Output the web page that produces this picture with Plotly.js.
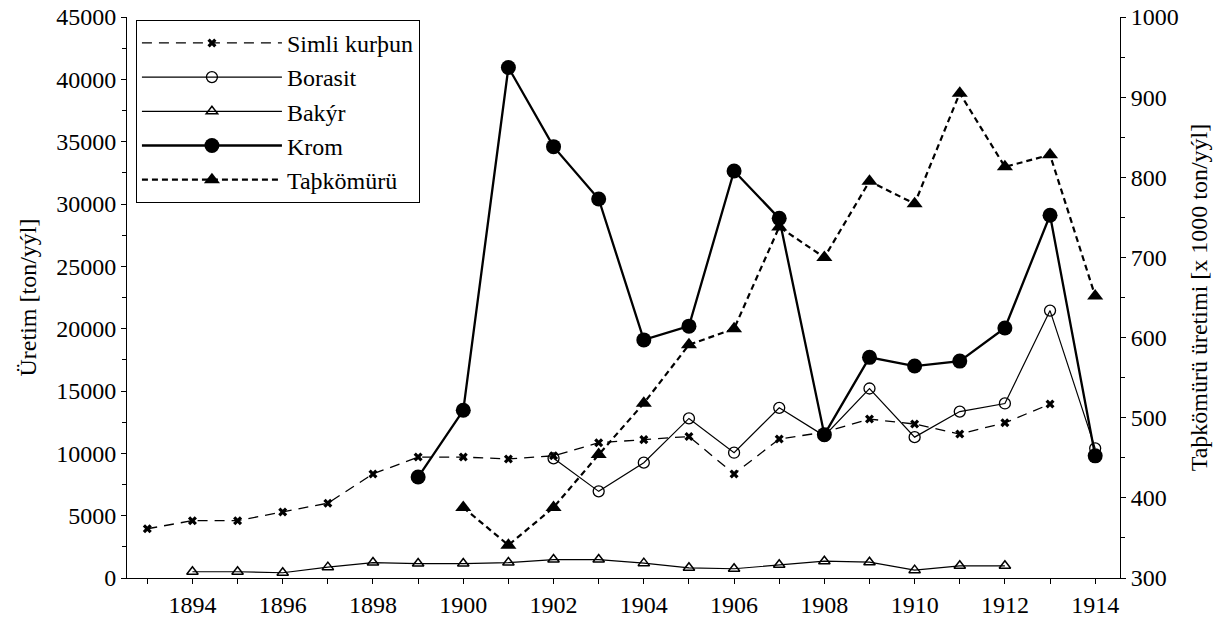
<!DOCTYPE html>
<html>
<head>
<meta charset="utf-8">
<script src="https://cdn.plot.ly/plotly-3.0.1.min.js"></script>
<style>
html,body{margin:0;padding:0;background:#fff;}
#chart{width:1220px;height:623px;}
#chart svg text{font-family:"Liberation Serif","Times New Roman",serif !important;}
</style>
</head>
<body>
<div id="chart"></div>
<script>
// Years (x axis)
const years = [1893,1894,1895,1896,1897,1898,1899,1900,1901,1902,1903,1904,1905,1906,1907,1908,1909,1910,1911,1912,1913,1914];

// Production [ton/yıl] - left axis
const simliKursun = [3950,4600,4600,5300,6000,8350,9700,9700,9550,9800,10850,11100,11350,8350,11150,11700,12750,12350,11550,12450,13950,null];
const borasit     = [null,null,null,null,null,null,null,null,null,9600,6950,9250,12800,10050,13650,11400,15200,11300,13350,14000,21450,10400];
const bakir       = [null,500,500,420,870,1240,1160,1160,1240,1480,1480,1190,820,740,1060,1350,1270,630,980,980,null,null];
const krom        = [null,null,null,null,null,null,8100,13450,40950,34600,30400,19100,20200,32650,28850,11500,17700,17000,17400,20050,29100,9800];

// Taşkömürü production [x 1000 ton/yıl] - right axis
const taskomuru   = [null,null,null,null,null,null,null,388,341,388,454,518,591,611,738,700,795,767,905,813,828,652];

// Labels
const seriesNames = ["Simli kurþun","Borasit","Bakýr","Krom","Taþkömürü"];
const yTitle = "Üretim [ton/yýl]";
const y2Title = "Taþkömürü üretimi [x 1000 ton/yýl]";

const mkFont = (s) => ({family: "Times New Roman", size: s, color: "#000"});

const traces = [
  {x: years, y: simliKursun, name: seriesNames[0], type: "scatter", mode: "lines+markers",
   line: {color: "#000", width: 1.3, dash: "10px,7px"},
   marker: {symbol: "x", size: 8, color: "#000"}},
  {x: years, y: borasit, name: seriesNames[1], type: "scatter", mode: "lines+markers",
   line: {color: "#000", width: 1.2},
   marker: {symbol: "circle-open", size: 11, color: "#000", line: {width: 1.3, color: "#000"}}},
  {x: years, y: bakir, name: seriesNames[2], type: "scatter", mode: "lines+markers",
   line: {color: "#000", width: 1.2},
   marker: {symbol: "triangle-up-open", size: 10, color: "#000", line: {width: 1.5, color: "#000"}}},
  {x: years, y: krom, name: seriesNames[3], type: "scatter", mode: "lines+markers",
   line: {color: "#000", width: 2.3},
   marker: {symbol: "circle", size: 15, color: "#000"}},
  {x: years, y: taskomuru, name: seriesNames[4], type: "scatter", mode: "lines+markers", yaxis: "y2",
   line: {color: "#000", width: 2.2, dash: "6px,4px"},
   marker: {symbol: "triangle-up", size: 14, color: "#000"}}
];

const layout = {
  width: 1220, height: 623,
  paper_bgcolor: "#fff", plot_bgcolor: "#fff",
  margin: {l: 127, r: 100, t: 17, b: 45},
  font: mkFont(24),
  showlegend: true,
  legend: {
    x: 0.009, y: 0.995, xanchor: "left", yanchor: "top",
    bgcolor: "#fff", bordercolor: "#000", borderwidth: 1,
    font: mkFont(24),
    itemwidth: 140, tracegroupgap: 0
  },
  xaxis: {
    range: [1892.55, 1914.55], tick0: 1894, dtick: 2,
    showgrid: false, zeroline: false,
    showline: true, linecolor: "#000", linewidth: 1,
    ticks: "outside", ticklen: 5, tickcolor: "#000", tickwidth: 1,
    minor: {dtick: 1, ticks: "outside", ticklen: 5, tickcolor: "#000", showgrid: false},
    tickfont: mkFont(24)
  },
  yaxis: {
    range: [0, 45000], dtick: 5000, tick0: 0,
    showgrid: false, zeroline: false,
    showline: true, linecolor: "#000", linewidth: 1,
    ticks: "outside", ticklen: 5, tickcolor: "#000",
    minor: {dtick: 2500, ticks: "outside", ticklen: 4, tickcolor: "#000", showgrid: false},
    tickfont: mkFont(24), tickformat: "d",
    title: {text: yTitle, font: mkFont(24), standoff: 12}
  },
  yaxis2: {
    range: [300, 1000], dtick: 100, tick0: 300,
    overlaying: "y", side: "right", anchor: "x",
    showgrid: false, zeroline: false,
    showline: true, linecolor: "#000", linewidth: 1,
    ticks: "outside", ticklen: 5, tickcolor: "#000",
    minor: {dtick: 50, ticks: "outside", ticklen: 4, tickcolor: "#000", showgrid: false},
    tickfont: mkFont(24),
    title: {text: y2Title, font: mkFont(24), standoff: 12}
  }
};

Plotly.newPlot("chart", traces, layout, {staticPlot: true});
</script>
</body>
</html>
